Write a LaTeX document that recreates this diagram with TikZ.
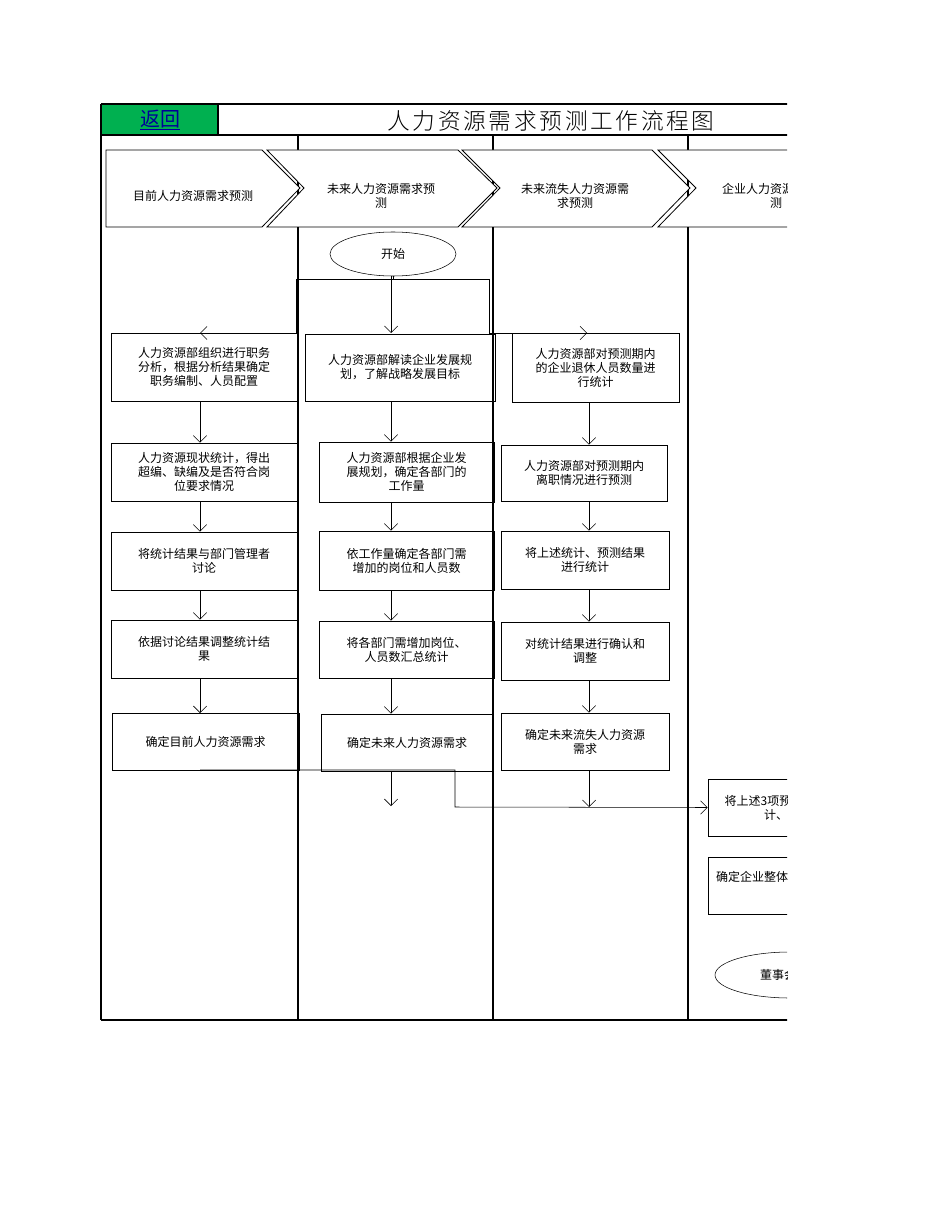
\documentclass[tikz,border=0pt]{standalone}
\usepackage{fontspec}
\setmainfont{Liberation Serif}
\newfontfamily\cjk{Noto Sans CJK SC}
\newfontfamily\cjkw[LetterSpace=12]{Noto Sans CJK SC Light}
\usetikzlibrary{arrows.meta,shapes.geometric}
\definecolor{backgreen}{RGB}{0,176,80}
\begin{document}
\begin{tikzpicture}[x=0.75pt,y=-0.75pt,
  box/.style={draw,semithick,rectangle,inner sep=0pt,align=center,font=\cjk\fontsize{9}{10.5}\selectfont},
  arr/.style={-{Straight Barb[length=5pt,width=10pt]},thin},
  ln/.style={thin},
  frame/.style={line width=2pt},
  chev/.style={draw,semithick,fill=white}]
\useasboundingbox (0,0) rectangle (950,1230);
\begin{scope}
\clip (0,0) rectangle (787,1230);
% frame
\fill[backgreen] (101,104) rectangle (218,135);
\node[font=\cjk\fontsize{15}{16}\selectfont,text=blue!60!black] (back) at (160,120) {\underline{返回}};
\node[font=\cjkw\fontsize{17}{18}\selectfont] (title) at (551,121) {人力资源需求预测工作流程图};
\draw[frame] (101,104) -- (800,104);
\draw[frame] (101,135) -- (800,135);
\draw[frame] (101,1020) -- (800,1020);
\draw[frame] (101,104) -- (101,1020);
\draw[frame] (218,104) -- (218,135);
\draw[frame] (298,135) -- (298,1020);
\draw[frame] (493,135) -- (493,1020);
\draw[frame] (688,135) -- (688,1020);
% chevrons
\draw[chev] (106,150) -- (262,150) -- (300,188) -- (262,227) -- (106,227) -- cycle;
\draw[chev] (267,150) -- (458,150) -- (497,188) -- (458,227) -- (267,227) -- (304,188) -- cycle;
\draw[chev] (462,150) -- (652,150) -- (690,188) -- (652,227) -- (462,227) -- (500,188) -- cycle;
\draw[chev] (658,150) -- (850,150) -- (888,188) -- (850,227) -- (658,227) -- (696,188) -- cycle;
\node[font=\cjk\fontsize{9}{10.5}\selectfont,align=center] (c1) at (193,196) {目前人力资源需求预测};
\node[font=\cjk\fontsize{9}{10.5}\selectfont,align=center] (c2) at (381,196) {未来人力资源需求预\\测};
\node[font=\cjk\fontsize{9}{10.5}\selectfont,align=center] (c3) at (575,196) {未来流失人力资源需\\求预测};
\node[font=\cjk\fontsize{9}{10.5}\selectfont,align=center] (c4) at (776,196) {企业人力资源需求预\\测};
% start
\node[draw,thin,ellipse,minimum width=126*0.75pt,minimum height=44*0.75pt,font=\cjk\fontsize{9}{10.5}\selectfont] (start) at (393,254) {开始};
% lane 1
\node[box,minimum width=186*0.75pt,minimum height=68*0.75pt] (b11) at (204,367) {人力资源部组织进行职务\\分析，根据分析结果确定\\职务编制、人员配置};
\node[box,minimum width=186*0.75pt,minimum height=58*0.75pt] (b12) at (204,472) {人力资源现状统计，得出\\超编、缺编及是否符合岗\\位要求情况};
\node[box,minimum width=186*0.75pt,minimum height=58*0.75pt] (b13) at (204,561) {将统计结果与部门管理者\\讨论};
\node[box,minimum width=186*0.75pt,minimum height=58*0.75pt] (b14) at (204,649) {依据讨论结果调整统计结\\果};
\node[box,minimum width=187*0.75pt,minimum height=57*0.75pt] (b15) at (205.5,741.5) {确定目前人力资源需求};
% lane 2
\node[box,minimum width=190*0.75pt,minimum height=67*0.75pt] (b21) at (400,367.5) {人力资源部解读企业发展规\\划，了解战略发展目标};
\node[box,minimum width=175*0.75pt,minimum height=60*0.75pt] (b22) at (406.5,472) {人力资源部根据企业发\\展规划，确定各部门的\\工作量};
\node[box,minimum width=175*0.75pt,minimum height=59*0.75pt] (b23) at (406.5,560.5) {依工作量确定各部门需\\增加的岗位和人员数};
\node[box,minimum width=175*0.75pt,minimum height=57*0.75pt] (b24) at (406.5,649.5) {将各部门需增加岗位、\\人员数汇总统计};
\node[box,minimum width=172*0.75pt,minimum height=57*0.75pt] (b25) at (407,742.5) {确定未来人力资源需求};
% lane 3
\node[box,minimum width=167*0.75pt,minimum height=69*0.75pt] (b31) at (595.5,367.5) {人力资源部对预测期内\\的企业退休人员数量进\\行统计};
\node[box,minimum width=166*0.75pt,minimum height=56*0.75pt] (b32) at (584,473) {人力资源部对预测期内\\离职情况进行预测};
\node[box,minimum width=168*0.75pt,minimum height=58*0.75pt] (b33) at (585,560) {将上述统计、预测结果\\进行统计};
\node[box,minimum width=168*0.75pt,minimum height=58*0.75pt] (b34) at (585,651) {对统计结果进行确认和\\调整};
\node[box,minimum width=168*0.75pt,minimum height=57*0.75pt] (b35) at (585,741.5) {确定未来流失人力资源\\需求};
% lane 4
\node[box,minimum width=160*0.75pt,minimum height=57*0.75pt] (b41) at (788,807.5) {将上述3项预测结果汇总\\计、分析};
\node[box,minimum width=160*0.75pt,minimum height=57*0.75pt,text depth=14pt] (b42) at (788,885.5) {确定企业整体人力资源需求};
\node[draw,thin,ellipse,minimum width=150*0.75pt,minimum height=46*0.75pt,font=\cjk\fontsize{9}{10.5}\selectfont] (end) at (790,975) {董事会审批};
% connectors
\coordinate (sp) at (391,279);
\draw[ln] (start.south) -- (start.south|-sp);
\draw[ln] (296,279) -- (489,279);
\draw[arr] (391,276) -- (391,333);
\draw[ln] (296,279) -- (296,333);
\draw[arr] (296,333) -- (200,333);
\draw[ln] (489,279) -- (489,333);
\draw[arr] (489,333) -- (587,333);
\draw[arr] (b11.south-|200,0) -- (b12.north-|200,0);
\draw[arr] (b12.south-|200,0) -- (b13.north-|200,0);
\draw[arr] (b13.south-|200,0) -- (b14.north-|200,0);
\draw[arr] (b14.south-|200,0) -- (200,713);
\draw[arr] (b21.south-|391,0) -- (b22.north-|391,0);
\draw[arr] (b22.south-|391,0) -- (b23.north-|391,0);
\draw[arr] (b23.south-|391,0) -- (b24.north-|391,0);
\draw[arr] (b24.south-|391,0) -- (b25.north-|391,0);
\draw[arr] (b31.south-|589,0) -- (b32.north-|589,0);
\draw[arr] (b32.south-|589,0) -- (b33.north-|589,0);
\draw[arr] (b33.south-|589,0) -- (b34.north-|589,0);
\draw[arr] (b34.south-|589,0) -- (b35.north-|589,0);
\coordinate (f2) at (391,806);
\draw[arr] (b25.south-|391,0) -- (f2);
\draw[arr] (b35.south-|589,0) -- (589,807);
\draw[arr] (200,770) -- (455,770) -- (455,807) -- (b41.west);
\end{scope}
\end{tikzpicture}
\end{document}
